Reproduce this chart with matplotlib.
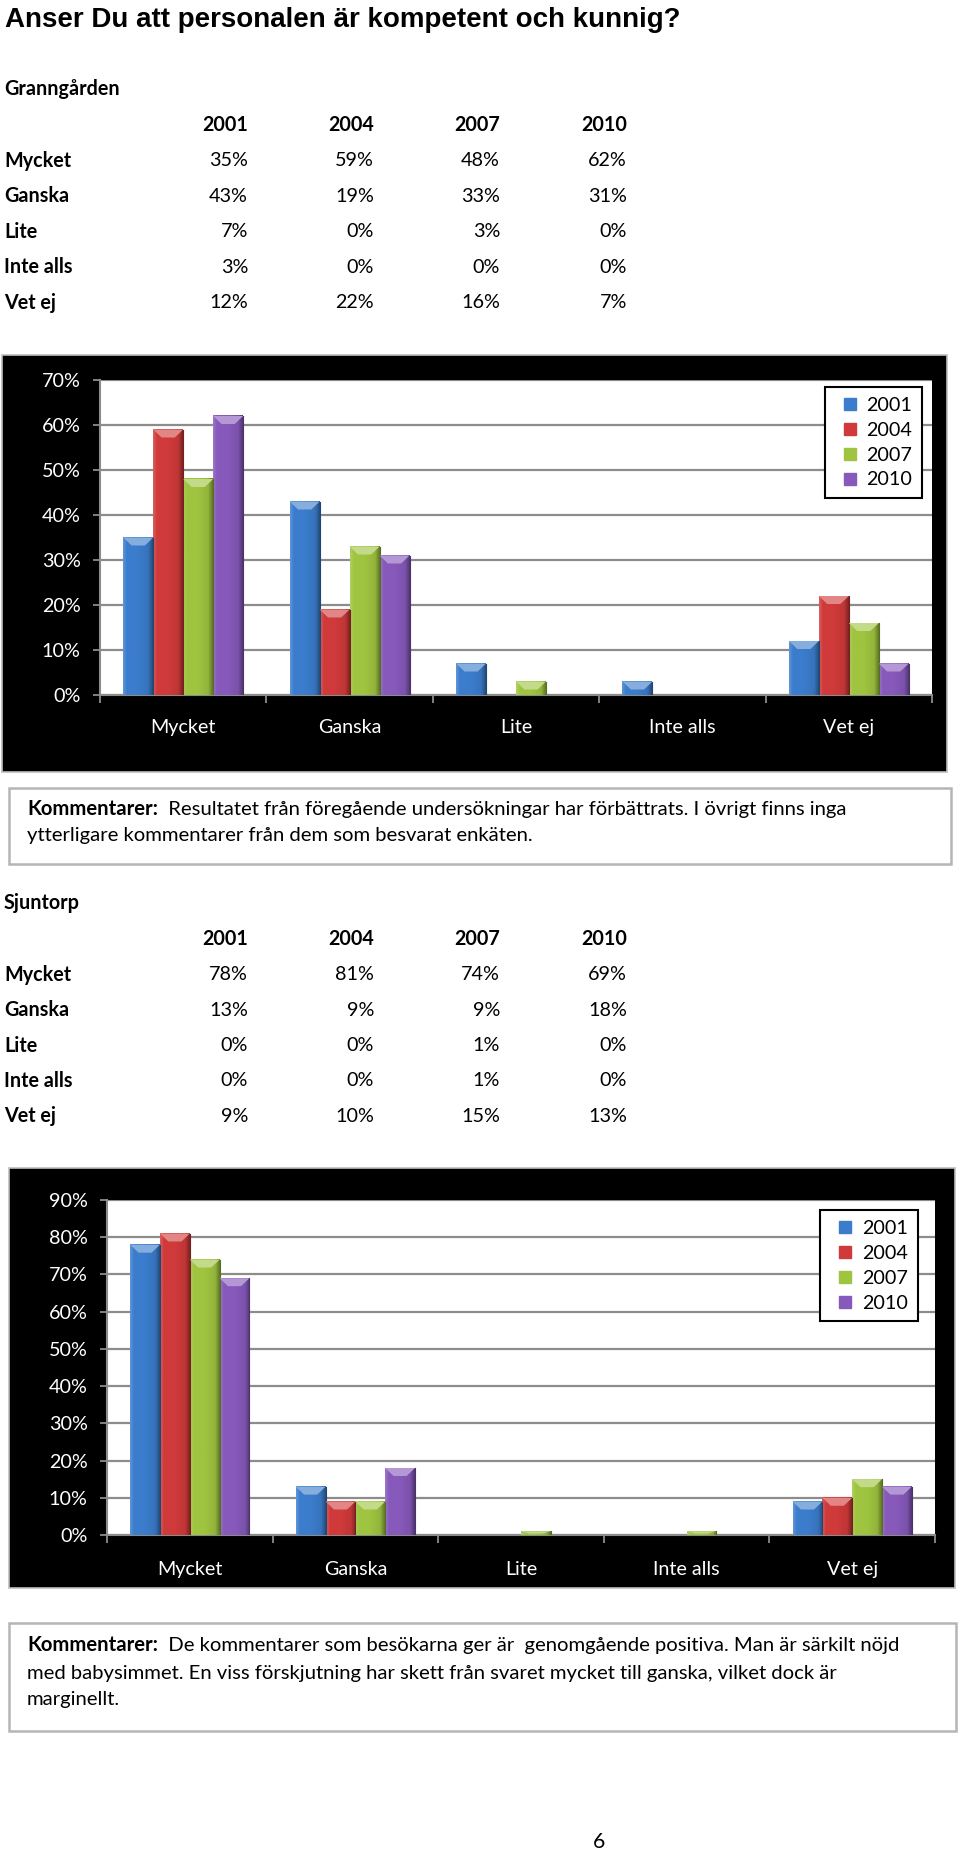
import matplotlib
matplotlib.use('Agg')
import matplotlib.pyplot as plt
import numpy as np
from matplotlib.patches import Rectangle, Polygon
from matplotlib.lines import Line2D
from matplotlib.colors import to_rgb
from matplotlib.ticker import PercentFormatter, MultipleLocator

plt.rcParams['font.family'] = ['Lato', 'DejaVu Sans']

# ---------------- data ----------------
title = 'Anser Du att personalen är kompetent och kunnig?'
categories = ['Mycket', 'Ganska', 'Lite', 'Inte alls', 'Vet ej']
years = ['2001', '2004', '2007', '2010']

gr_name = 'Granngården'
gr_2001 = [35, 43, 7, 3, 12]
gr_2004 = [59, 19, 0, 0, 22]
gr_2007 = [48, 33, 3, 0, 16]
gr_2010 = [62, 31, 0, 0, 7]

sj_name = 'Sjuntorp'
sj_2001 = [78, 13, 0, 0, 9]
sj_2004 = [81, 9, 0, 0, 10]
sj_2007 = [74, 9, 1, 1, 15]
sj_2010 = [69, 18, 0, 0, 13]

comment_label = 'Kommentarer:'
comment1 = ['Resultatet från föregående undersökningar har förbättrats. I övrigt finns inga',
            'ytterligare kommentarer från dem som besvarat enkäten.']
comment2 = ['De kommentarer som besökarna ger är  genomgående positiva. Man är särkilt nöjd',
            'med babysimmet. En viss förskjutning har skett från svaret mycket till ganska, vilket dock är',
            'marginellt.']
page_number = '6'

colors = ['#3b7dcc', '#d03a3a', '#9fc440', '#8659bb']

# ---------------- figure ----------------
W, H = 960, 1854
fig = plt.figure(figsize=(W / 100, H / 100), dpi=100)
fig.patch.set_facecolor('white')
page = fig.add_axes([0, 0, 1, 1])
page.set_xlim(0, W)
page.set_ylim(H, 0)
page.axis('off')
page.set_zorder(-1)
renderer = fig.canvas.get_renderer()

BODY = 14.2
COMMENT = 14.6


def px_axes(l, t, r, b):
    return fig.add_axes([l / W, 1 - b / H, (r - l) / W, (b - t) / H])


# title
page.text(5, 27, title, family=['Liberation Sans', 'DejaVu Sans'], weight='bold',
          fontsize=20, va='baseline', ha='left', color='black')


def draw_table(name, series, top):
    step = 35.5
    page.text(4, top, name, weight='bold', fontsize=BODY, va='center', ha='left')
    col_right = [248, 374, 500, 627]
    hy = top + 36
    for cx, yr in zip(col_right, years):
        page.text(cx, hy, yr, weight='bold', fontsize=BODY, va='center', ha='right')
    for r, cat in enumerate(categories):
        ry = hy + step * (r + 1)
        page.text(4, ry, cat, weight='bold', fontsize=BODY, va='center', ha='left')
        for cx, vals in zip(col_right, series):
            page.text(cx, ry, f'{vals[r]}%', fontsize=BODY, va='center', ha='right')


def draw_chart(frame, plot, series, ymax, legend_anchor, xpad, ypad):
    fl, ft, fr, fb = frame
    page.add_patch(Rectangle((fl, ft), fr - fl, fb - ft, facecolor='black',
                             edgecolor='#bdbdbd', lw=1.2))
    ax = px_axes(*plot)
    ax.set_facecolor('white')
    n = len(series)
    w = 0.18
    x = np.arange(len(categories))
    pl, pt, pr, pb = plot
    px_per_y = (pb - pt) / ymax
    for i, (vals, col) in enumerate(zip(series, colors)):
        base = np.array(to_rgb(col))
        light = base + (1 - base) * 0.38
        lightedge = base + (1 - base) * 0.18
        dark = base * 0.62
        t = np.linspace(0, 1, 40)
        grad = np.stack([np.interp(t, [0, 0.12, 0.5, 0.85, 1.0],
                                   [lightedge[c], base[c], base[c], base[c] * 0.92, dark[c]])
                         for c in range(3)], axis=-1)
        xs = x + (i - (n - 1) / 2) * w
        for xc, v in zip(xs, vals):
            if v <= 0:
                continue
            x0, x1 = xc - w / 2, xc + w / 2
            ax.imshow(grad[np.newaxis, :, :], extent=(x0, x1, 0, v), aspect='auto',
                      interpolation='bilinear', zorder=3)
            h = min(8 / px_per_y, v * 0.6)
            d = w * 0.28
            ax.add_patch(Polygon([(x0, v), (x1, v), (x1 - d, v - h), (x0 + d, v - h)],
                                 closed=True, facecolor=light, edgecolor='none', zorder=4))
            ax.plot([x1, x1], [0, v], color=dark * 0.9, lw=0.8, zorder=4)
    ax.set_xlim(-0.5, len(categories) - 0.5)
    ax.set_ylim(0, ymax)
    ax.yaxis.set_major_locator(MultipleLocator(10))
    ax.yaxis.set_major_formatter(PercentFormatter(decimals=0))
    ax.grid(axis='y', color='#8c8c8c', lw=1.6)
    ax.set_axisbelow(True)
    for s in ['top', 'right']:
        ax.spines[s].set_visible(False)
    for s in ['left', 'bottom']:
        ax.spines[s].set_color('#8c8c8c')
        ax.spines[s].set_linewidth(1.5)
    ax.tick_params(axis='y', color='#8c8c8c', labelcolor='white', length=5, width=1.3,
                   labelsize=BODY, pad=ypad)
    ax.set_xticks(x)
    ax.set_xticklabels(categories)
    ax.tick_params(axis='x', which='major', length=0, labelcolor='white', labelsize=BODY, pad=xpad)
    ax.set_xticks(np.arange(-0.5, len(categories), 1), minor=True)
    ax.tick_params(axis='x', which='minor', length=6, width=1.3, color='#8c8c8c')
    handles = [Line2D([], [], marker='s', markersize=8.5, color=c, linestyle='none')
               for c in colors]
    leg = ax.legend(handles, years, loc='upper right', bbox_to_anchor=legend_anchor,
                    frameon=True, fancybox=False, edgecolor='black', framealpha=1,
                    fontsize=BODY, handlelength=1.5, handletextpad=0.1,
                    labelspacing=0.4, borderpad=0.5, borderaxespad=0)
    leg.get_frame().set_linewidth(1.5)
    return ax


def draw_comment(box, lines, ys):
    bl, bt, br, bb = box
    page.add_patch(Rectangle((bl, bt), br - bl, bb - bt, facecolor='white',
                             edgecolor='#b5b5b5', lw=1.8))
    x0 = 27
    t1 = page.text(x0, ys[0], comment_label, weight='bold', fontsize=COMMENT, va='center', ha='left')
    ext = t1.get_window_extent(renderer)
    page.text(x0 + ext.width, ys[0], '  ' + lines[0], fontsize=COMMENT, va='center', ha='left')
    for ln, yy in zip(lines[1:], ys[1:]):
        page.text(x0, yy, ln, fontsize=COMMENT, va='center', ha='left')


# Granngården
draw_table(gr_name, [gr_2001, gr_2004, gr_2007, gr_2010], 89)
draw_chart((2, 355, 947, 772), (100, 380, 932, 695),
           [gr_2001, gr_2004, gr_2007, gr_2010], 70, (0.988, 0.978), 17, 9)
draw_comment((9, 788, 951, 864), comment1, [809, 835])

# Sjuntorp
draw_table(sj_name, [sj_2001, sj_2004, sj_2007, sj_2010], 903)
draw_chart((9, 1168, 955, 1588), (107, 1200, 935, 1535),
           [sj_2001, sj_2004, sj_2007, sj_2010], 90, (0.979, 0.97), 19, 9)
draw_comment((9, 1623, 956, 1731), comment2, [1645, 1673, 1700])

page.text(599, 1842, page_number, fontsize=BODY + 1, va='center', ha='center')

fig.savefig('out.png', dpi=100, facecolor='white')
